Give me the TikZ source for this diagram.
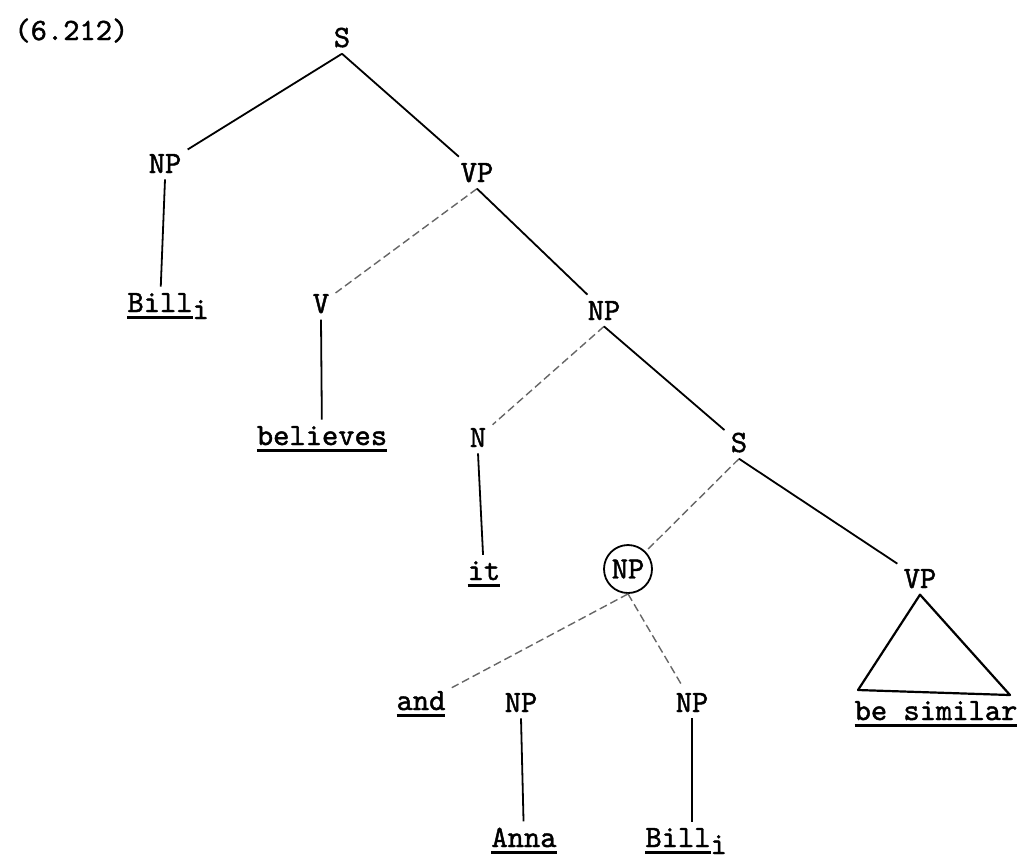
\documentclass[tikz,border=0pt]{standalone}
\usepackage{fontspec}
\newfontfamily\tyfont[FakeBold=1.4]{lmmono10-regular.otf}
\newcommand\tyul[1]{\sbox0{#1}\rlap{\rule[-3.5pt]{\wd0}{1.5pt}}\usebox0}
\newcommand\tysub[1]{\rlap{\raisebox{-3.5pt}{#1}}}
\tikzset{
  lbl/.style={font=\fontsize{15.5pt}{18pt}\selectfont\tyfont, inner sep=3pt, anchor=base},
  edge/.style={line width=0.9pt},
  faint/.style={line width=0.7pt, black!60, dash pattern=on 4pt off 2pt},
}
\begin{document}
\begin{tikzpicture}[x=0.5pt,y=-0.5pt]
\useasboundingbox (0,0) rectangle (1020,859);
\node[lbl, anchor=base west] (num) at (8,40) {(6.212)};
\node[lbl] (S1) at (342,47) {S};
\node[lbl] (NP1) at (165,173) {NP};
\node[lbl] (VP1) at (477,182) {VP};
\node[lbl] (Bill1) at (160,312) {\tyul{Bill}\tysub{i}};
\node[lbl] (V) at (321,313) {V};
\node[lbl] (NP2) at (604,320) {NP};
\node[lbl] (bel) at (322,445) {\tyul{believes}};
\node[lbl] (N) at (478,447) {N};
\node[lbl] (S2) at (739,452) {S};
\node[lbl] (it) at (484,580) {\tyul{it}};
\node[lbl, circle, draw, line width=0.9pt, minimum size=24pt, inner sep=0pt, anchor=center] (NP3) at (628,569) {NP};
\node[lbl] (VP2) at (920,588) {VP};
\node[lbl] (and) at (421,710) {\tyul{and}};
\node[lbl] (NP4) at (521,712) {NP};
\node[lbl] (NP5) at (692,712) {NP};
\node[lbl] (besim) at (936,720) {\tyul{be similar}};
\node[lbl] (Anna) at (524,847) {\tyul{Anna}};
\node[lbl] (Bill2) at (678,847) {\tyul{Bill}\tysub{i}};
\coordinate (tl) at (858,690);
\coordinate (tr) at (1010,695);
\draw[edge] (S1.south) -- (NP1);
\draw[edge] (S1.south) -- (VP1);
\draw[edge] (NP1.south) -- (Bill1);
\draw[faint] (VP1.south) -- (V);
\draw[edge] (VP1.south) -- (NP2);
\draw[edge] (V.south) -- (bel);
\draw[faint] (NP2.south) -- (N);
\draw[edge] (NP2.south) -- (S2);
\draw[edge] (N.south) -- (it);
\draw[faint] (S2.south) -- (NP3);
\draw[edge] (S2.south) -- (VP2);
\draw[faint] (NP3.south) -- (and);
\draw[faint] (NP3.south) -- (NP5);
\draw[edge] (NP4.south) -- (Anna);
\draw[edge] (NP5.south) -- (NP5.south |- Bill2.north);
\draw[edge, line width=1.1pt, line join=round] (VP2.south) -- (tl) -- (tr) -- cycle;
\end{tikzpicture}
\end{document}
